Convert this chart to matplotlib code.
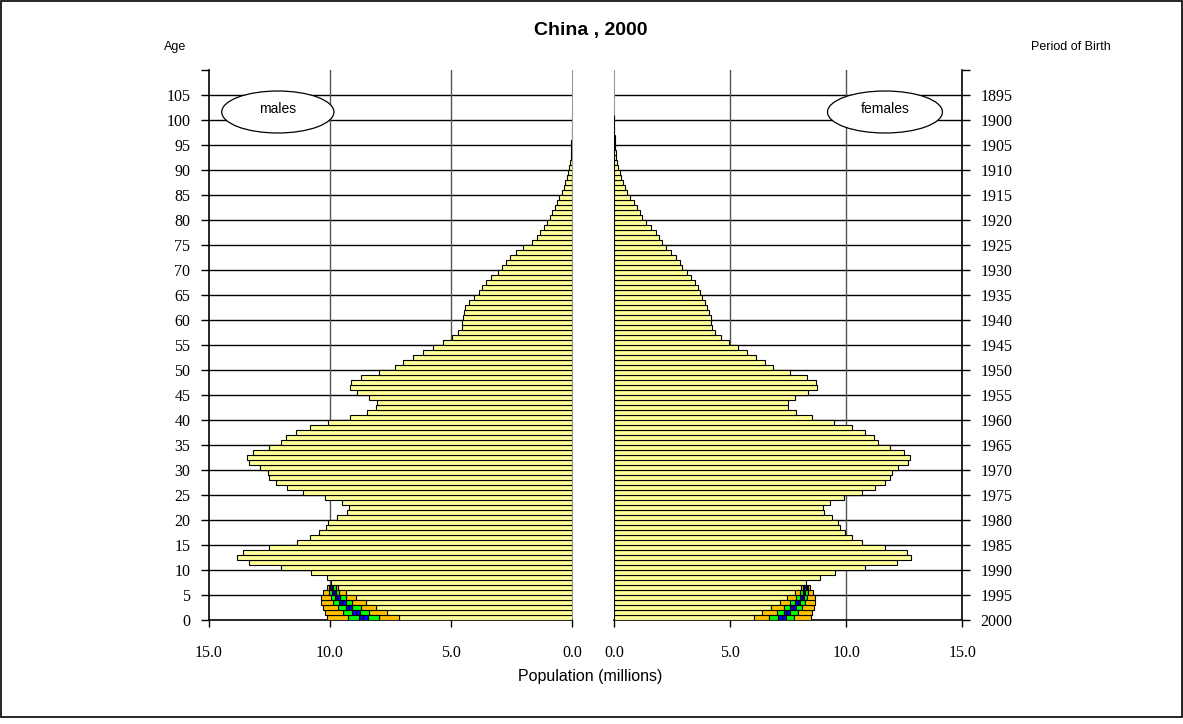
import numpy as np
import matplotlib
matplotlib.use('Agg')
import matplotlib.pyplot as plt
from matplotlib.patches import Ellipse, Rectangle

ages = np.arange(0, 101)

# yellow part of each bar (millions); for ages 0-6 this is the base under the coloured bands
males = [7.15, 7.62, 8.07, 8.51, 8.93, 9.34, 9.64, 9.94, 10.12, 10.76,
         12.02, 13.33, 13.84, 13.56, 12.49, 11.36, 10.81, 10.43, 10.15, 10.05,
         9.71, 9.27, 9.19, 9.50, 10.19, 11.09, 11.76, 12.23, 12.50, 12.56,
         12.86, 13.33, 13.43, 13.15, 12.50, 12.01, 11.79, 11.39, 10.81, 10.05,
         9.17, 8.47, 8.10, 8.06, 8.36, 8.86, 9.17, 9.13, 8.72, 7.98,
         7.32, 6.96, 6.55, 6.16, 5.75, 5.31, 4.94, 4.69, 4.55, 4.54,
         4.51, 4.46, 4.40, 4.24, 4.03, 3.84, 3.73, 3.56, 3.34, 3.07,
         2.87, 2.74, 2.56, 2.30, 2.01, 1.64, 1.46, 1.30, 1.16, 1.03,
         0.90, 0.82, 0.72, 0.63, 0.52, 0.42, 0.35, 0.28, 0.22, 0.16,
         0.11, 0.08, 0.06, 0.045, 0.035, 0.025, 0.018, 0.012, 0.008, 0.005,
         0.003]
females = [6.01, 6.39, 6.76, 7.13, 7.46, 7.81, 8.07, 8.28, 8.88, 9.53,
           10.82, 12.20, 12.80, 12.62, 11.65, 10.68, 10.25, 9.93, 9.75, 9.65,
           9.40, 9.06, 9.01, 9.32, 9.89, 10.66, 11.25, 11.67, 11.90, 11.96,
           12.24, 12.67, 12.76, 12.49, 11.87, 11.38, 11.21, 10.79, 10.23, 9.46,
           8.53, 7.84, 7.48, 7.48, 7.78, 8.37, 8.73, 8.70, 8.31, 7.56,
           6.86, 6.49, 6.13, 5.74, 5.35, 4.94, 4.59, 4.36, 4.23, 4.19,
           4.16, 4.11, 4.02, 3.93, 3.79, 3.69, 3.63, 3.50, 3.30, 3.13,
           2.94, 2.83, 2.69, 2.47, 2.25, 2.07, 1.95, 1.79, 1.61, 1.38,
           1.22, 1.13, 1.00, 0.85, 0.67, 0.55, 0.46, 0.39, 0.32, 0.24,
           0.17, 0.13, 0.10, 0.07, 0.05, 0.035, 0.025, 0.018, 0.012, 0.008,
           0.005]

# projection bands for the youngest ages 0-6 (widths, stacked outward)
young = np.arange(0, 7)
m_orange1 = [0.80, 0.74, 0.62, 0.58, 0.41, 0.26, 0.11]
m_green1 = [0.48, 0.39, 0.37, 0.25, 0.23, 0.15, 0.10]
m_blue1 = [0.18, 0.16, 0.14, 0.14, 0.11, 0.07, 0.07]
m_blue2 = [0.18, 0.18, 0.14, 0.12, 0.10, 0.07, 0.05]
m_green2 = [0.47, 0.37, 0.33, 0.25, 0.18, 0.12, 0.06]
m_orange2 = [0.86, 0.72, 0.59, 0.51, 0.40, 0.28, 0.09]

f_orange1 = [0.65, 0.63, 0.55, 0.46, 0.36, 0.20, 0.07]
f_green1 = [0.40, 0.30, 0.25, 0.22, 0.17, 0.11, 0.06]
f_blue1 = [0.17, 0.13, 0.13, 0.11, 0.09, 0.06, 0.05]
f_blue2 = [0.16, 0.13, 0.13, 0.10, 0.09, 0.06, 0.06]
f_green2 = [0.36, 0.36, 0.29, 0.20, 0.15, 0.13, 0.06]
f_orange2 = [0.75, 0.59, 0.49, 0.42, 0.35, 0.21, 0.07]

yticks = np.arange(0, 111, 5)
age_labels = [str(v) if v <= 105 else '' for v in yticks]
birth_labels = [str(2000 - v) if v <= 105 else '' for v in yticks]
xticks = [0, 5, 10, 15]
xlabels = ['0.0', '5.0', '10.0', '15.0']

YELLOW = '#FFFF99'
ORANGE = '#FFC000'
GREEN = '#00FF00'
BLUE = '#0000FF'
SERIF = 'Liberation Serif'
SANS = 'Liberation Sans'

W, H = 1183, 724
fig = plt.figure(figsize=(W / 100, H / 100), dpi=100)

def frac(x0, x1, ytop, ybot):
    return [x0 / W, 1 - ybot / H, (x1 - x0) / W, (ybot - ytop) / H]

ax_m = fig.add_axes(frac(208.5, 572, 70, 620))
ax_f = fig.add_axes(frac(614, 962.3, 70, 620))

def draw_side(ax, base, bands):
    ax.barh(ages, base, height=1, align='edge', color=YELLOW,
            edgecolor='black', linewidth=0.8, zorder=3)
    left = np.array(base[:len(young)], dtype=float)
    for w, c in zip(bands, [ORANGE, GREEN, BLUE, BLUE, GREEN, ORANGE]):
        ax.barh(young, w, left=left, height=1, align='edge', color=c,
                edgecolor='black', linewidth=0.8, zorder=3)
        left = left + np.array(w)
    ax.set_ylim(0, 110)
    ax.set_yticks(yticks)
    ax.set_xticks(xticks)
    ax.set_xticklabels(xlabels, fontfamily=SERIF, fontsize=11.5)
    ax.tick_params(axis='x', direction='out', length=5, width=1, pad=13)
    ax.tick_params(axis='y', direction='out', length=6, width=1, pad=7)
    for v in yticks[1:-1]:
        ax.axhline(v, color='black', linewidth=1, zorder=1)
    for v in [5, 10]:
        ax.axvline(v, color='#555555', linewidth=1, zorder=1)
    ax.spines['top'].set_visible(False)
    ax.spines['bottom'].set_linewidth(1.2)

draw_side(ax_m, males, [m_orange1, m_green1, m_blue1, m_blue2, m_green2, m_orange2])
ax_m.set_xlim(15, 0)
ax_m.set_yticklabels(age_labels, fontfamily=SERIF, fontsize=11.5)
ax_m.spines['right'].set_color('#999999')
ax_m.spines['left'].set_linewidth(1.2)

draw_side(ax_f, females, [f_orange1, f_green1, f_blue1, f_blue2, f_green2, f_orange2])
ax_f.set_xlim(0, 15)
ax_f.yaxis.tick_right()
ax_f.set_yticklabels(birth_labels, fontfamily=SERIF, fontsize=11.5)
ax_f.spines['left'].set_color('#999999')
ax_f.spines['right'].set_linewidth(1.2)

# sex labels in ellipses
ax_m.add_patch(Ellipse((12.14, 101.6), 4.63, 8.4, facecolor='white',
                       edgecolor='black', linewidth=0.9, zorder=5))
ax_m.text(12.14, 102.2, 'males', ha='center', va='center', fontfamily=SANS,
          fontsize=10, zorder=6)
ax_f.add_patch(Ellipse((11.67, 101.6), 4.95, 8.4, facecolor='white',
                       edgecolor='black', linewidth=0.9, zorder=5))
ax_f.text(11.67, 102.2, 'females', ha='center', va='center', fontfamily=SANS,
          fontsize=10, zorder=6)

fig.text(591 / W, 1 - 31 / H, 'China , 2000', ha='center', va='center',
         fontfamily=SANS, fontsize=14, fontweight='bold')
fig.text(175 / W, 1 - 47 / H, 'Age', ha='center', va='center',
         fontfamily=SANS, fontsize=9)
fig.text(1071 / W, 1 - 47 / H, 'Period of Birth', ha='center', va='center',
         fontfamily=SANS, fontsize=9)
fig.text(590 / W, 1 - 676 / H, 'Population (millions)', ha='center',
         va='center', fontfamily=SANS, fontsize=11.5)

# outer frame
fig.patches.append(Rectangle((0.5 / W, 1 - 716.5 / H), 1181.5 / W, 716 / H,
                             transform=fig.transFigure, fill=False,
                             edgecolor='black', linewidth=1.2))

fig.savefig('out.png', dpi=100)
